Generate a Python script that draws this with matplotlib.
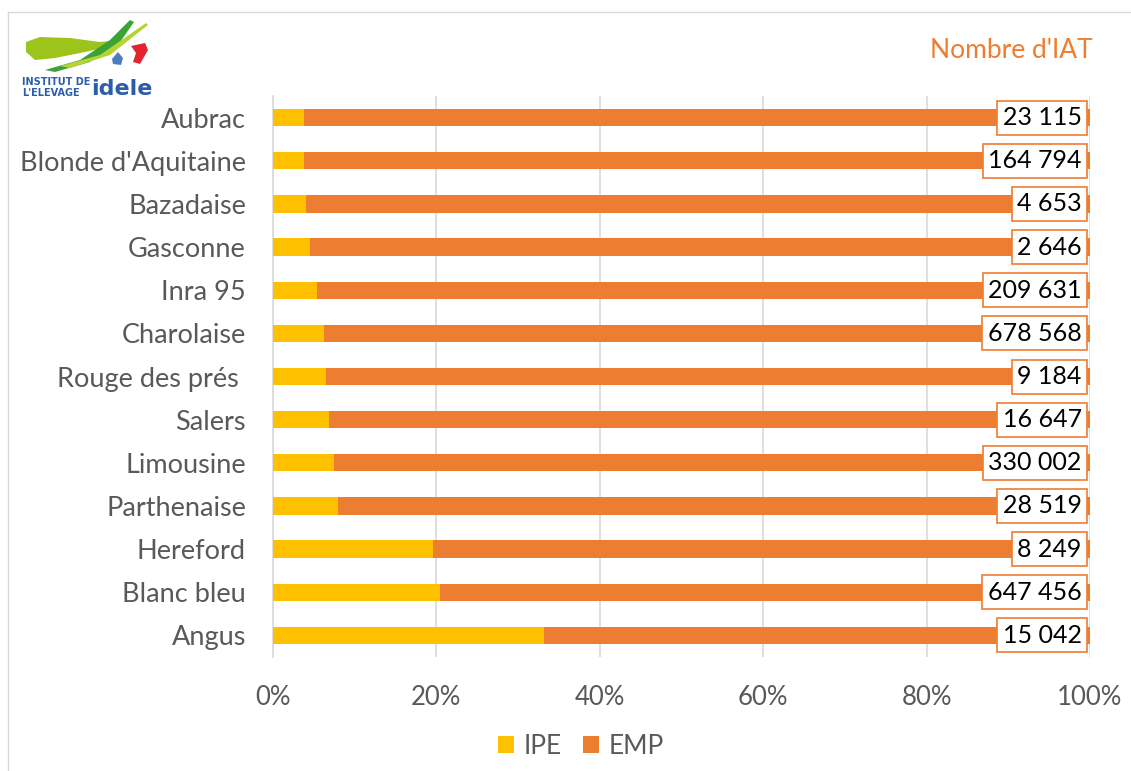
import matplotlib
matplotlib.use("Agg")
import matplotlib.pyplot as plt
from matplotlib.patches import Polygon
from matplotlib.lines import Line2D
import numpy as np

breeds = ["Aubrac", "Blonde d'Aquitaine", "Bazadaise", "Gasconne", "Inra 95",
          "Charolaise", "Rouge des prés ", "Salers", "Limousine", "Parthenaise",
          "Hereford", "Blanc bleu", "Angus"]
ipe_pct = [3.8, 3.8, 4.1, 4.5, 5.4, 6.2, 6.5, 6.9, 7.5, 7.9, 19.6, 20.5, 33.2]
emp_pct = [100 - v for v in ipe_pct]
nb_iat = [23115, 164794, 4653, 2646, 209631, 678568, 9184, 16647, 330002,
          28519, 8249, 647456, 15042]
x_ticks = [0, 20, 40, 60, 80, 100]

C_IPE = "#FFC000"
C_EMP = "#ED7D31"
GREY = "#595959"
FONT = ["Lato", "DejaVu Sans"]
plt.rcParams['font.family'] = FONT

W, H = 1131, 771
fig = plt.figure(figsize=(W / 100, H / 100), dpi=100)
ax = fig.add_axes([273 / W, 1 - 657 / H, (1090 - 273) / W, (657 - 96) / H])

y = np.arange(len(breeds))
ax.barh(y, ipe_pct, height=0.4, color=C_IPE, label="IPE", zorder=3)
ax.barh(y, emp_pct, left=ipe_pct, height=0.4, color=C_EMP, label="EMP", zorder=3)

def fmt(n):
    return f"{n:,}".replace(",", " ")

for yi, n in zip(y, nb_iat):
    ax.annotate(fmt(n), xy=(100, yi), xytext=(-6, 0), textcoords="offset points",
                ha="right", va="center", fontsize=18, color="black", zorder=5,
                bbox=dict(boxstyle="square,pad=0.22", fc="white", ec=C_EMP, lw=1.2))

ax.set_xlim(0, 100)
ax.set_ylim(len(breeds) - 0.5, -0.5)
ax.set_yticks(y)
ax.set_yticklabels(breeds, fontsize=19.5, color=GREY)
ax.set_xticks(x_ticks)
ax.set_xticklabels([f"{t}%" for t in x_ticks], fontsize=18.5, color=GREY)
ax.tick_params(axis="both", length=0)
ax.tick_params(axis="y", pad=19.5)
ax.tick_params(axis="x", pad=20)
ax.grid(axis="x", color="#D9D9D9", lw=1.2, zorder=0)
for s in ["top", "right", "bottom"]:
    ax.spines[s].set_visible(False)
ax.spines["left"].set_color("#D9D9D9")
ax.spines["left"].set_linewidth(1.2)

leg = fig.legend(loc="center", bbox_to_anchor=(581 / W, 1 - 746 / H), ncol=2,
                 frameon=False, fontsize=19, handlelength=0.6, handleheight=0.6,
                 columnspacing=0.8, handletextpad=0.38, labelcolor=GREY)

fig.text(1093 / W, 1 - 50 / H, "Nombre d'IAT", ha="right", va="center",
         fontsize=19, color=C_EMP)

# chart border (top and left)
fig.add_artist(Line2D([8 / W, 1], [1 - 12 / H, 1 - 12 / H], color="#D9D9D9", lw=1))
fig.add_artist(Line2D([8 / W, 8 / W], [1 - 12 / H, 0], color="#D9D9D9", lw=1))

# logo (approximation)
def fp(pts):
    return [(px / W, 1 - py / H) for px, py in pts]

fig.add_artist(Polygon(fp([(26, 42), (40, 37), (70, 38), (100, 42), (120, 40), (128, 32),
                           (112, 46), (85, 52), (55, 58), (35, 60), (26, 52)]),
                       closed=True, fc="#9DC41A", ec="none"))
fig.add_artist(Polygon(fp([(45, 70), (80, 60), (110, 40), (130, 20), (134, 22),
                           (118, 45), (90, 62), (55, 72)]),
                       closed=True, fc="#3AA335", ec="none"))
fig.add_artist(Polygon(fp([(60, 66), (100, 55), (146, 23), (148, 25), (110, 55), (70, 68)]),
                       closed=True, fc="#B5D334", ec="none"))
fig.add_artist(Polygon(fp([(131, 46), (145, 43), (148, 50), (140, 64), (133, 62), (136, 53)]),
                       closed=True, fc="#E3232E", ec="none"))
fig.add_artist(Polygon(fp([(118, 52), (123, 58), (121, 65), (113, 64), (112, 59)]),
                       closed=True, fc="#4A7DC0", ec="none"))
LOGO_FONT = ["DejaVu Sans Condensed", "DejaVu Sans"]
fig.text(22 / W, 1 - 82 / H, "INSTITUT DE", fontsize=7, fontweight="bold",
         color="#2B5DA8", va="center", ha="left", family=LOGO_FONT)
fig.text(22 / W, 1 - 93 / H, "L'ELEVAGE", fontsize=7, fontweight="bold",
         color="#2B5DA8", va="center", ha="left", family=LOGO_FONT)
fig.text(91 / W, 1 - 89 / H, "idele", fontsize=16, fontweight="bold",
         color="#2B5DA8", va="center", ha="left", family=LOGO_FONT)

fig.savefig("out.png", dpi=100)
